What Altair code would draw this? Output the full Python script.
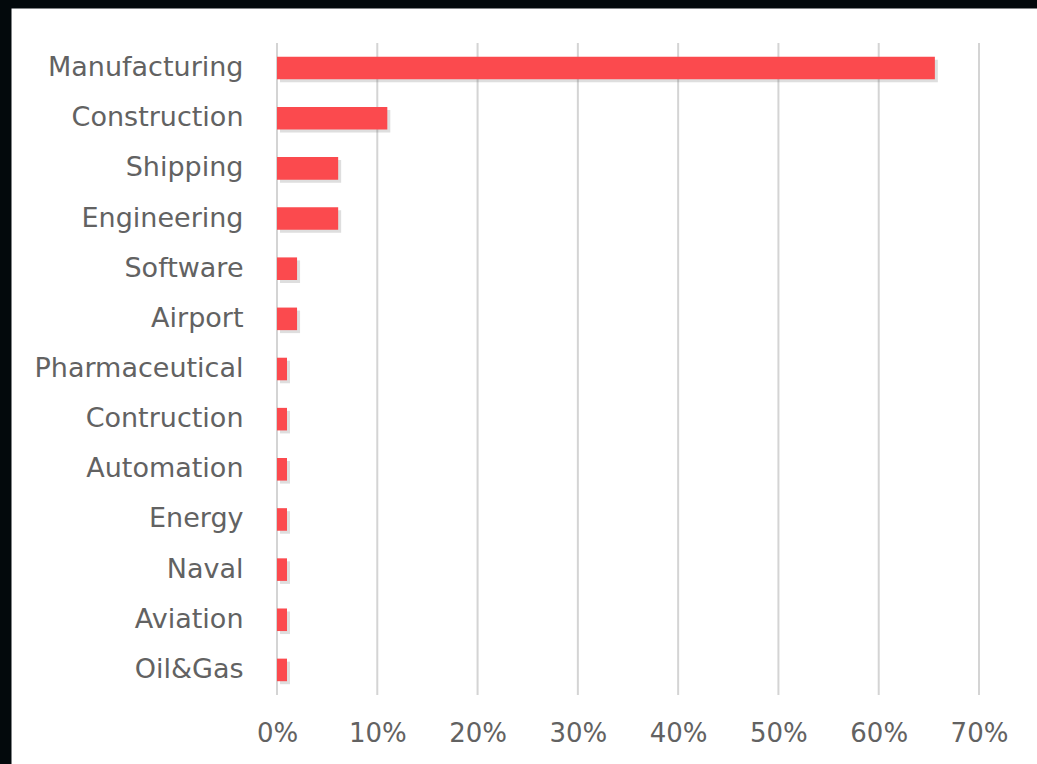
import altair as alt
import pandas as pd

categories = ["Manufacturing", "Construction", "Shipping", "Engineering", "Software",
              "Airport", "Pharmaceutical", "Contruction", "Automation", "Energy",
              "Naval", "Aviation", "Oil&Gas"]
shares = [0.656, 0.110, 0.061, 0.061, 0.020, 0.020, 0.010, 0.010, 0.010, 0.010,
          0.010, 0.010, 0.010]
tick_values = [0, 0.1, 0.2, 0.3, 0.4, 0.5, 0.6, 0.7]

df = pd.DataFrame({"sector": categories, "share": shares})
grid_df = pd.DataFrame({"share": tick_values})

FONT = "DejaVu Sans"
LABEL = "#626262"

x_scale = alt.Scale(domain=[0, 0.7], range=[266, 968], nice=False, zero=True)
x_axis = alt.Axis(title=None, values=tick_values, format=".0%", offset=-69,
                  labelPadding=25, labelFlush=False, ticks=False, domain=False,
                  grid=False, labelFont=FONT, labelFontSize=26, labelColor=LABEL)

y_enc = alt.Y(
    "sector:N", sort=categories,
    scale=alt.Scale(range=[35, 687], paddingInner=0.55, paddingOuter=0.275),
    axis=alt.Axis(title=None, offset=-266, labelPadding=34, ticks=False, domain=False,
                  grid=False, labelFont=FONT, labelFontSize=27, labelColor=LABEL,
                  labelLimit=400),
)
x_enc = alt.X("share:Q", scale=x_scale, axis=x_axis)

grid = alt.Chart(grid_df).mark_rule(color="#d4d4d4", strokeWidth=2).encode(
    x=x_enc,
    y=alt.value(35), y2=alt.value(687),
)
shadow = alt.Chart(df).mark_bar(color="#6b6b6b", opacity=0.22, xOffset=3, yOffset=3).encode(
    x=x_enc, y=y_enc
)
bars = alt.Chart(df).mark_bar(color="#FB4A4E").encode(x=x_enc, y=y_enc)

chart = alt.layer(grid, shadow, bars).properties(
    width=1026, height=756,
    autosize=alt.AutoSizeParams(type="none"),
    padding={"left": 11, "top": 8, "right": 0, "bottom": 0},
    background="#03090c",
).configure_view(fill="white", stroke="transparent")

chart.save("out.html", embed_options={"renderer": "svg", "actions": False})
